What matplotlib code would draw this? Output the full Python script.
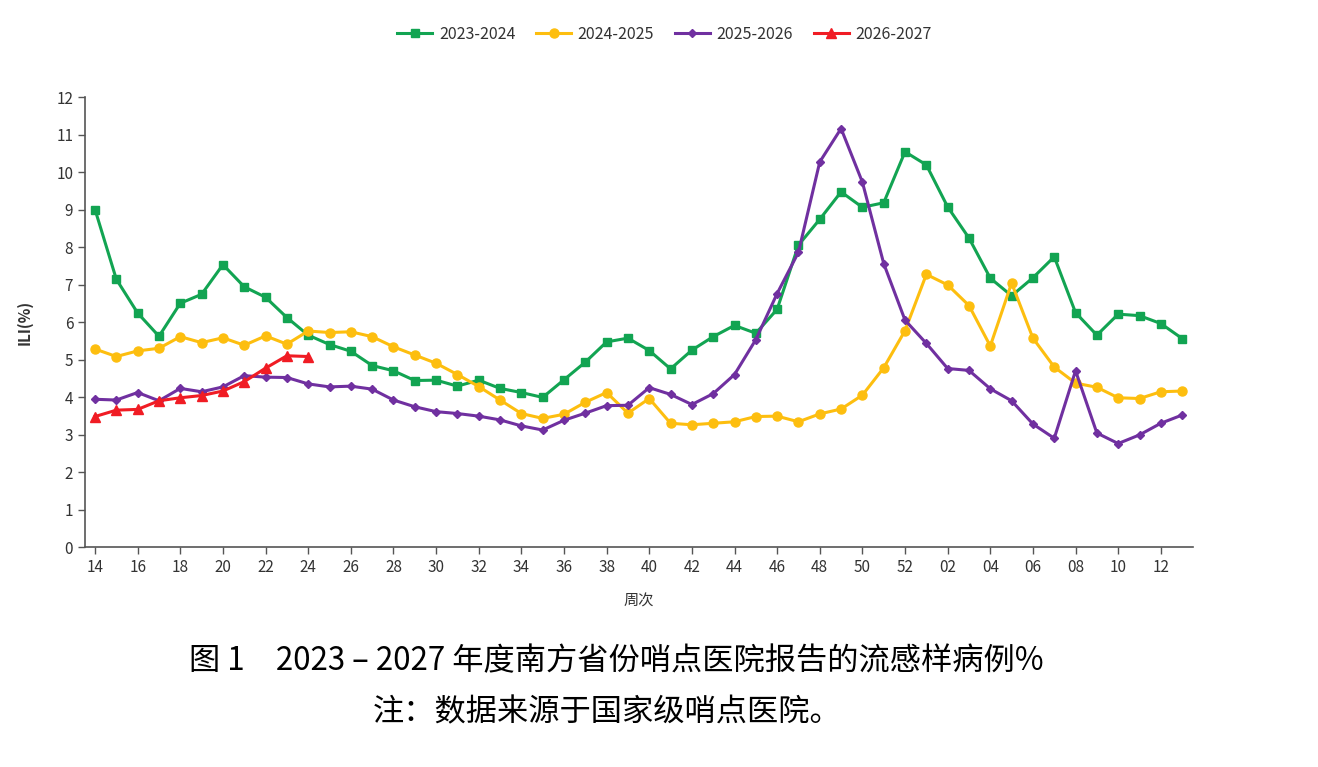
import numpy as np
import matplotlib
matplotlib.use('Agg')
import matplotlib.pyplot as plt

plt.rcParams['font.family'] = ['Noto Sans CJK SC', 'DejaVu Sans']

# DATA ---------------------------------------------------------------------------------------------
weeks = [f'{w:02d}' for w in range(14, 53)] + [f'{w:02d}' for w in range(1, 14)]

s2023 = [9.0, 7.14, 6.24, 5.62, 6.5, 6.74, 7.53, 6.94, 6.66, 6.12, 5.65, 5.4, 5.22, 4.84, 4.7,
         4.44, 4.45, 4.29, 4.45, 4.23, 4.12, 3.99, 4.46, 4.93, 5.47, 5.57, 5.24, 4.75, 5.25, 5.61,
         5.91, 5.7, 6.34, 8.05, 8.74, 9.47, 9.06, 9.18, 10.54, 10.19, 9.07, 8.24, 7.17, 6.7, 7.18,
         7.74, 6.25, 5.65, 6.21, 6.17, 5.96, 5.56]
s2024 = [5.28, 5.08, 5.23, 5.3, 5.61, 5.45, 5.58, 5.38, 5.63, 5.41, 5.76, 5.72, 5.74, 5.61, 5.34,
         5.12, 4.9, 4.6, 4.28, 3.92, 3.56, 3.43, 3.54, 3.86, 4.12, 3.57, 3.96, 3.3, 3.26, 3.3,
         3.34, 3.48, 3.49, 3.34, 3.55, 3.68, 4.05, 4.78, 5.77, 7.27, 6.99, 6.44, 5.36, 7.04, 5.57,
         4.8, 4.37, 4.26, 3.98, 3.96, 4.14, 4.16]
s2025 = [3.94, 3.92, 4.12, 3.9, 4.23, 4.14, 4.27, 4.57, 4.53, 4.52, 4.35, 4.27, 4.29, 4.21, 3.92,
         3.74, 3.61, 3.56, 3.49, 3.39, 3.23, 3.12, 3.38, 3.57, 3.77, 3.78, 4.25, 4.07, 3.8, 4.09,
         4.6, 5.53, 6.76, 7.86, 10.27, 11.16, 9.73, 7.56, 6.05, 5.43, 4.76, 4.71, 4.22, 3.9, 3.28,
         2.9, 4.7, 3.04, 2.76, 2.99, 3.3, 3.52]
s2026 = [3.48, 3.65, 3.67, 3.9, 3.98, 4.04, 4.16, 4.41, 4.77, 5.1, 5.08]

labels = ['2023-2024', '2024-2025', '2025-2026', '2026-2027']
colors = ['#12a452', '#fdbe0f', '#7030a0', '#f01c24']
markers = ['s', 'o', 'D', '^']
msizes = [6, 6.5, 4.5, 6.5]

# PLOT ---------------------------------------------------------------------------------------------
fig = plt.figure(figsize=(13.18, 7.67), dpi=100)
ax = fig.add_axes([0.0645, 0.2868, 0.8405, 0.5867])

x = np.arange(len(weeks))
for series, lab, c, m, ms in zip([s2023, s2024, s2025, s2026], labels, colors, markers, msizes):
    ax.plot(x[:len(series)], series, color=c, marker=m, markersize=ms, linewidth=2.2, label=lab)

ax.set_xlim(-0.47, len(weeks) - 0.5)
ax.set_ylim(0, 12)
ax.set_yticks(range(0, 13))
ax.set_xticks(x[::2])
ax.set_xticklabels(weeks[::2])

for side in ['top', 'right']:
    ax.spines[side].set_visible(False)
for side in ['left', 'bottom']:
    ax.spines[side].set_color('#555555')
    ax.spines[side].set_linewidth(1.2)
ax.tick_params(axis='both', direction='out', length=5, color='#555555', labelsize=11,
               labelcolor='#333333', width=1)

ax.set_ylabel('ILI(%)', fontsize=11, fontweight='bold', color='#333333', labelpad=17)
ax.set_xlabel('周次', fontsize=11, color='#333333', labelpad=12)

ax.legend(loc='upper center', bbox_to_anchor=(0.523, 1.19), ncol=4, frameon=False, fontsize=11.5,
          handlelength=2.2, columnspacing=1.3, handletextpad=0.4, labelcolor='#333333')

fig.text(0.4675, 0.138, '图 1　2023 – 2027 年度南方省份哨点医院报告的流感样病例%', ha='center',
         va='center', fontsize=22.5)
fig.text(0.461, 0.0717, '注：数据来源于国家级哨点医院。', ha='center', va='center', fontsize=22.5)

fig.savefig('out.png', dpi=100)
